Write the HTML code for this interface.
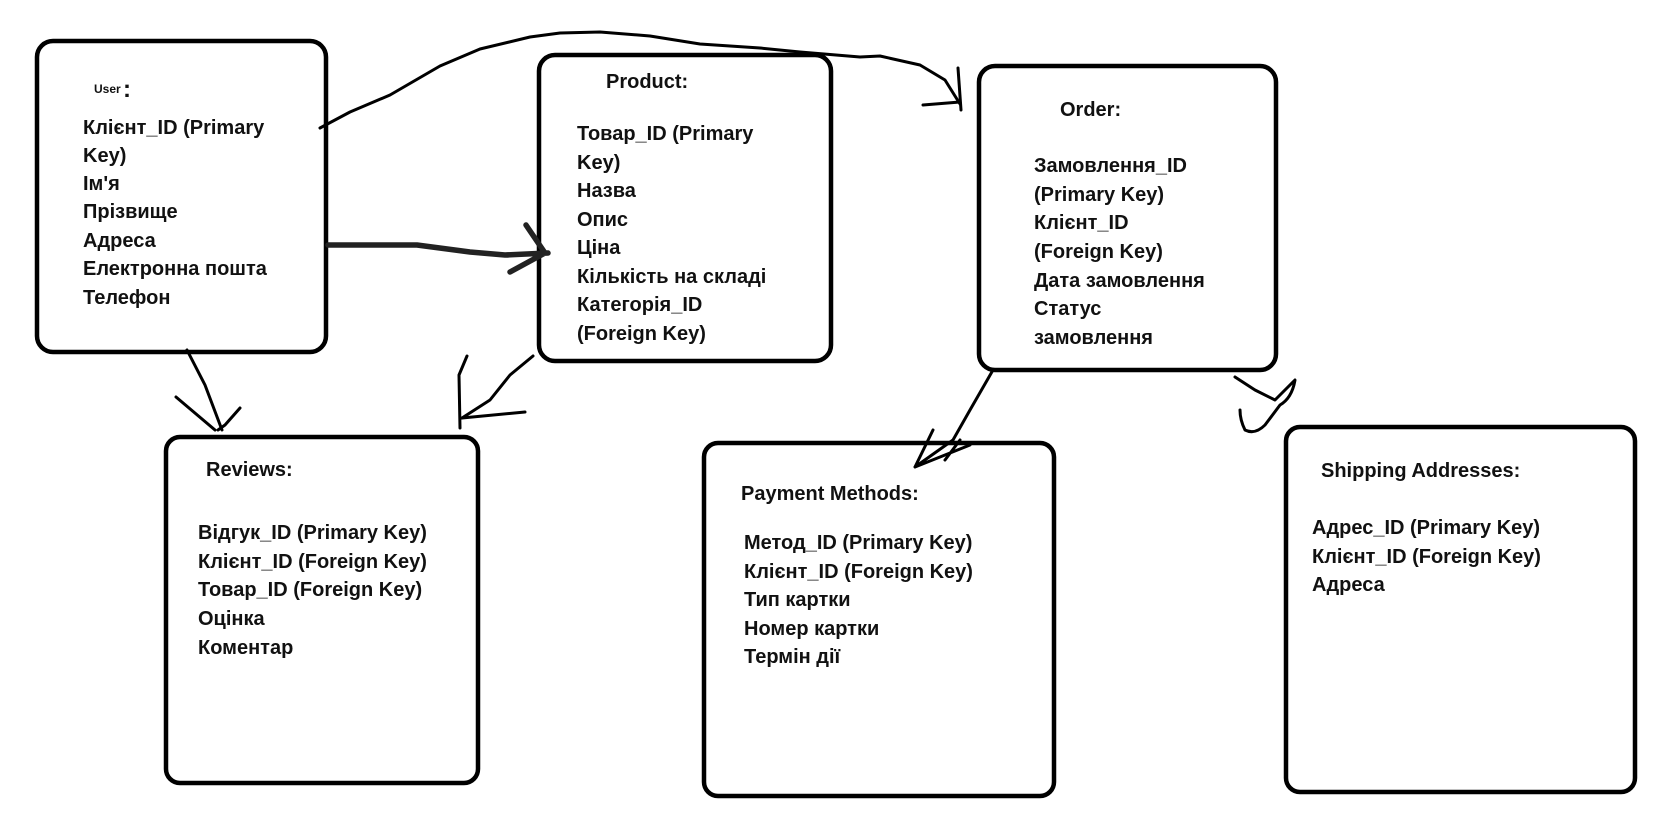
<!DOCTYPE html>
<html><head><meta charset="utf-8"><style>
html,body{margin:0;padding:0;background:#fff;}
svg{display:block;}
text{font-family:"Liberation Sans","DejaVu Sans",sans-serif;font-weight:bold;font-size:20px;fill:#111;letter-spacing:0px;}
</style></head><body>
<svg width="1664" height="832" viewBox="0 0 1664 832" xmlns="http://www.w3.org/2000/svg">
<g fill="none" stroke="#000" stroke-width="4.5">
<rect x="37" y="41" width="289" height="311" rx="16"/>
<rect x="539" y="55" width="292" height="306" rx="16"/>
<rect x="979" y="66" width="297" height="304" rx="16"/>
<rect x="166" y="437" width="312" height="346" rx="14"/>
<rect x="704" y="443" width="350" height="353" rx="14"/>
<rect x="1286" y="427" width="349" height="365" rx="14"/>
</g>
<g fill="none" stroke="#000" stroke-width="3" stroke-linecap="round" stroke-linejoin="round">
<path d="M320,128 L350,112 L390,95 L440,66 L480,49 L530,37 L560,33 L600,32 L650,36 L700,44 L760,48 L800,52 L860,57 L880,56 L920,65 L945,80 L960,104"/>
<path d="M923,105 L960,102 M958,68 L961,110"/>
<path d="M187,350 L205,385 L222,430 M176,397 L215,430 M240,408 L225,425 L218,430"/>
<path d="M533,356 L510,375 L490,400 L462,418 M467,356 L459,375 L460,428 M462,418 L525,412"/>
<path d="M993,370 L970,410 L953,440 L915,467 M933,430 L915,467 L970,445 M960,440 L945,460"/>
<path d="M1235,377 L1255,390 L1275,400 Q1290,385 1295,380 Q1292,398 1280,405 L1265,425 Q1255,435 1245,430 Q1240,420 1240,410"/>
</g>
<g fill="none" stroke="#222" stroke-width="5.5" stroke-linecap="round" stroke-linejoin="round">
<path d="M328,245 L417,245 L470,252 L505,255 L548,253 M526,225 L545,253 L510,272"/>
</g>

<text x="94" y="93" style="font-size:12px">User</text><text x="123" y="97" style="font-size:24px">:</text>
<text x="83" y="134">Клієнт_ID (Primary</text>
<text x="83" y="162">Key)</text>
<text x="83" y="190">Ім'я</text>
<text x="83" y="218">Прізвище</text>
<text x="83" y="247">Адреса</text>
<text x="83" y="275">Електронна пошта</text>
<text x="83" y="304">Телефон</text>

<text x="606" y="88">Product:</text>
<text x="577" y="140">Товар_ID (Primary</text>
<text x="577" y="169">Key)</text>
<text x="577" y="197">Назва</text>
<text x="577" y="226">Опис</text>
<text x="577" y="254">Ціна</text>
<text x="577" y="283">Кількість на складі</text>
<text x="577" y="311">Категорія_ID</text>
<text x="577" y="340">(Foreign Key)</text>

<text x="1060" y="116">Order:</text>
<text x="1034" y="172">Замовлення_ID</text>
<text x="1034" y="201">(Primary Key)</text>
<text x="1034" y="229">Клієнт_ID</text>
<text x="1034" y="258">(Foreign Key)</text>
<text x="1034" y="287">Дата замовлення</text>
<text x="1034" y="315">Статус</text>
<text x="1034" y="344">замовлення</text>

<text x="206" y="476">Reviews:</text>
<text x="198" y="539">Відгук_ID (Primary Key)</text>
<text x="198" y="568">Клієнт_ID (Foreign Key)</text>
<text x="198" y="596">Товар_ID (Foreign Key)</text>
<text x="198" y="625">Оцінка</text>
<text x="198" y="654">Коментар</text>

<text x="741" y="500">Payment Methods:</text>
<text x="744" y="549">Метод_ID (Primary Key)</text>
<text x="744" y="578">Клієнт_ID (Foreign Key)</text>
<text x="744" y="606">Тип картки</text>
<text x="744" y="635">Номер картки</text>
<text x="744" y="663">Термін дії</text>

<text x="1321" y="477">Shipping Addresses:</text>
<text x="1312" y="534">Адрес_ID (Primary Key)</text>
<text x="1312" y="563">Клієнт_ID (Foreign Key)</text>
<text x="1312" y="591">Адреса</text>
</svg>
</body></html>
